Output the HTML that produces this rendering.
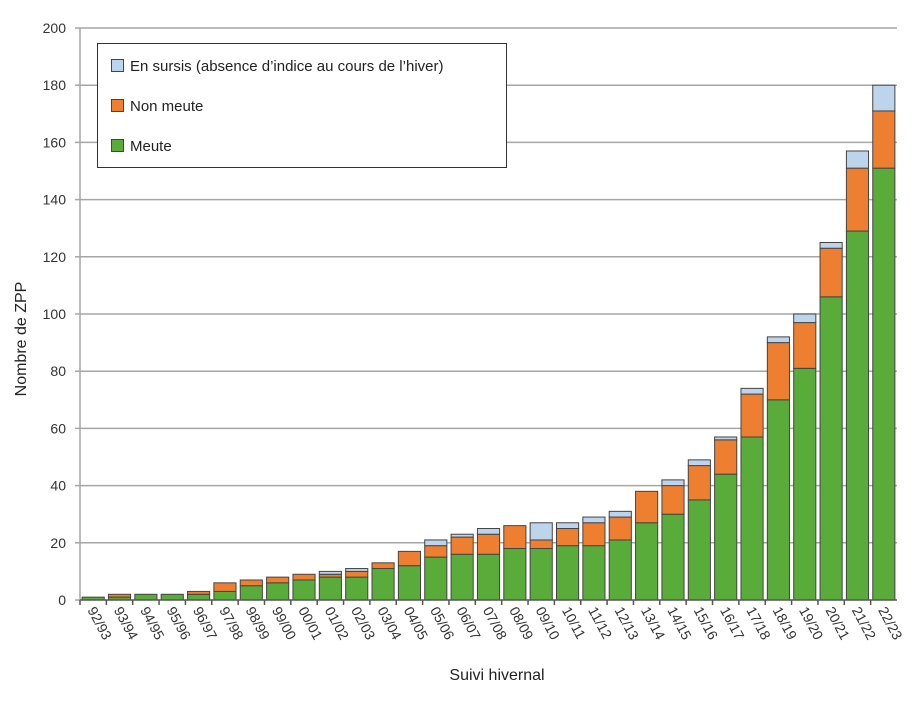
<!DOCTYPE html>
<html><head><meta charset="utf-8"><style>
body{margin:0;background:#fff;}
svg{display:block;font-family:"Liberation Sans",Arial,sans-serif;}
</style></head><body>
<svg id="chart" width="922" height="717"></svg>
<script>
const categories=["92/93","93/94","94/95","95/96","96/97","97/98","98/99","99/00","00/01","01/02","02/03","03/04","04/05","05/06","06/07","07/08","08/09","09/10","10/11","11/12","12/13","13/14","14/15","15/16","16/17","17/18","18/19","19/20","20/21","21/22","22/23"];
const meute=[1,1,2,2,2,3,5,6,7,8,8,11,12,15,16,16,18,18,19,19,21,27,30,35,44,57,70,81,106,129,151];
const nonMeute=[0,1,0,0,1,3,2,2,2,1,2,2,5,4,6,7,8,3,6,8,8,11,10,12,12,15,20,16,17,22,20];
const sursis=[0,0,0,0,0,0,0,0,0,1,1,0,0,2,1,2,0,6,2,2,2,0,2,2,1,2,2,3,2,6,9];
const yTicks=[0,20,40,60,80,100,120,140,160,180,200];
const NS="http://www.w3.org/2000/svg";
const svg=document.getElementById('chart');
const x0=80,x1=897,yBase=600,yTop=28,yMax=200;
const slot=(x1-x0)/categories.length;
function y(v){return yBase-(v/yMax)*(yBase-yTop);}
function xs(i){return x0+i*slot;}
function mk(t,a,p){const e=document.createElementNS(NS,t);for(const k in a)e.setAttribute(k,a[k]);(p||svg).appendChild(e);return e;}
// gridlines and y ticks
yTicks.forEach(v=>{
  if(v>0){const g=mk('line',{x1:x0,x2:x1,y1:y(v),y2:y(v),stroke:'#a6a6a6','stroke-width':1.5});
  
  }
  const tk=mk('line',{x1:x0-5,x2:x0,y1:y(v),y2:y(v),stroke:'#a6a6a6','stroke-width':1.5});
  
  
  const t=mk('text',{x:x0-14,y:y(v)+5,'text-anchor':'end','font-size':14,fill:'#333'});
  t.textContent=v;
  
  
});
const ya=mk('line',{x1:x0,x2:x0,y1:yTop,y2:yBase,stroke:'#a6a6a6','stroke-width':1.5});


// bars
const bw=slot*0.84;
categories.forEach((c,i)=>{
  const bx=xs(i)+(slot-bw)/2;
  const segs=[[meute[i],'#5aac3a'],[nonMeute[i],'#ee7f31'],[sursis[i],'#bcd5ec']];
  let acc=0;
  segs.forEach((s,j)=>{
    if(s[0]<=0)return;
    const r=mk('rect',{x:bx,y:y(acc+s[0]),width:bw,height:y(acc)-y(acc+s[0]),fill:s[1],stroke:'#444','stroke-width':1});
    
    
    acc+=s[0];
  });
});
const xa=mk('line',{x1:x0,x2:x1,y1:yBase,y2:yBase,stroke:'#555','stroke-width':1.5});


categories.forEach((c,i)=>{
  const tk=mk('line',{x1:xs(i),x2:xs(i),y1:yBase,y2:yBase+5,stroke:'#555','stroke-width':1.5});
  
  
  const lx=xs(i)+slot/2-6,ly=yBase+10;
  const t=mk('text',{x:lx,y:ly,'font-size':14,fill:'#333',transform:`rotate(62 ${lx} ${ly})`});
  t.textContent=c;
  
  
});
</script>
<div style="position:absolute;left:97px;top:43px;width:408px;height:123px;border:1px solid #333;background:#fff;font-family:'Liberation Sans',Arial,sans-serif;font-size:15px;color:#222;">
  <div style="position:absolute;left:13px;top:14px;"><span style="display:inline-block;width:11px;height:11px;background:#bcd5ec;border:1px solid #444;margin-right:6px;vertical-align:-1px"></span>En sursis (absence d’indice au cours de l’hiver)</div>
  <div style="position:absolute;left:13px;top:54px;"><span style="display:inline-block;width:11px;height:11px;background:#ee7f31;border:1px solid #444;margin-right:6px;vertical-align:-1px"></span>Non meute</div>
  <div style="position:absolute;left:13px;top:94px;"><span style="display:inline-block;width:11px;height:11px;background:#5aac3a;border:1px solid #444;margin-right:6px;vertical-align:-1px"></span>Meute</div>
</div>
<div style="position:absolute;left:-38px;top:330px;width:120px;text-align:center;transform:rotate(-90deg);font-family:'Liberation Sans',Arial,sans-serif;font-size:16px;color:#222;">Nombre de ZPP</div>
<div style="position:absolute;left:397px;top:667px;width:200px;text-align:center;font-family:'Liberation Sans',Arial,sans-serif;font-size:16px;color:#222;">Suivi hivernal</div>
</body></html>
